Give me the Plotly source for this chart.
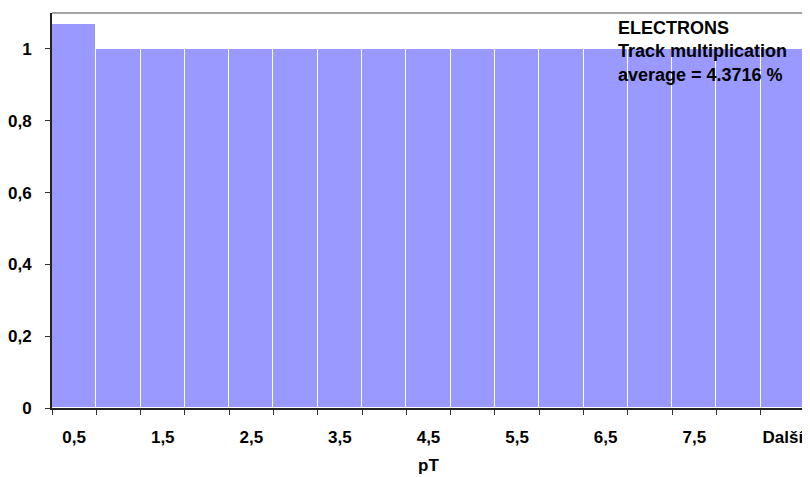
import plotly.graph_objects as go

categories = ["0,5", "1", "1,5", "2", "2,5", "3", "3,5", "4", "4,5", "5",
              "5,5", "6", "6,5", "7", "7,5", "8", "Další"]
values = [1.07, 1, 1, 1, 1, 1, 1, 1, 1, 1, 1, 1, 1, 1, 1, 1, 1]
y_ticks = [0, 0.2, 0.4, 0.6, 0.8, 1]
y_ticktext = ["0", "0,2", "0,4", "0,6", "0,8", "1"]
note_lines = ["ELECTRONS", "Track multiplication", "average = 4.3716 %"]

idx = list(range(len(categories)))
label_idx = idx[::2]

FONT = "Liberation Sans, Arial, sans-serif"

fig = go.Figure(go.Bar(
    x=idx, y=values, width=1,
    marker=dict(color="#9999FF", line=dict(color="white", width=1)),
))

# page body has an 8px default margin, so the figure is sized to fit
fig.update_layout(
    width=802, height=469,
    margin=dict(l=44, r=5, t=5, b=69),
    paper_bgcolor="white", plot_bgcolor="white",
    bargap=0, showlegend=False,
    font=dict(family=FONT, size=17, color="black", weight="bold"),
)
fig.update_xaxes(
    range=[-0.5, len(categories) - 0.5],
    automargin=False,
    tickmode="array", tickvals=label_idx,
    ticktext=[categories[i] for i in label_idx],
    ticks="outside", ticklen=0, tickcolor="rgba(0,0,0,0)",
    ticklabelstandoff=13,
    minor=dict(tickmode="linear", tick0=-0.5, dtick=1, ticks="outside",
               ticklen=5, tickcolor="#333", tickwidth=1, showgrid=False),
    showline=True, linecolor="#222", linewidth=2,
    showgrid=False, zeroline=False,
    title=dict(text="pT", standoff=13, font=dict(size=17, weight="bold")),
    tickfont=dict(size=17, weight="bold"),
)
fig.update_yaxes(
    range=[0, 1.1],
    automargin=False,
    tickmode="array", tickvals=y_ticks, ticktext=y_ticktext,
    ticks="outside", ticklen=5, tickcolor="#333", tickwidth=1,
    ticklabelstandoff=10,
    showline=True, linecolor="#222", linewidth=2,
    showgrid=False, zeroline=False,
    tickfont=dict(size=17, weight="bold"),
)
# plot-area border (top/right in grey)
fig.add_shape(type="line", xref="paper", yref="paper", x0=0, x1=1, y0=1, y1=1,
              line=dict(color="#888", width=1.5), layer="above")
fig.add_shape(type="line", xref="paper", yref="paper", x0=1, x1=1, y0=0, y1=1,
              line=dict(color="#888", width=1.5), layer="above")

fig.add_annotation(
    xref="paper", yref="paper", x=0.749, y=0.992,
    xanchor="left", yanchor="top", align="left", showarrow=False,
    text="<br>".join(note_lines),
    font=dict(size=18, weight="bold", color="black"),
)

fig.write_html("out.html")
